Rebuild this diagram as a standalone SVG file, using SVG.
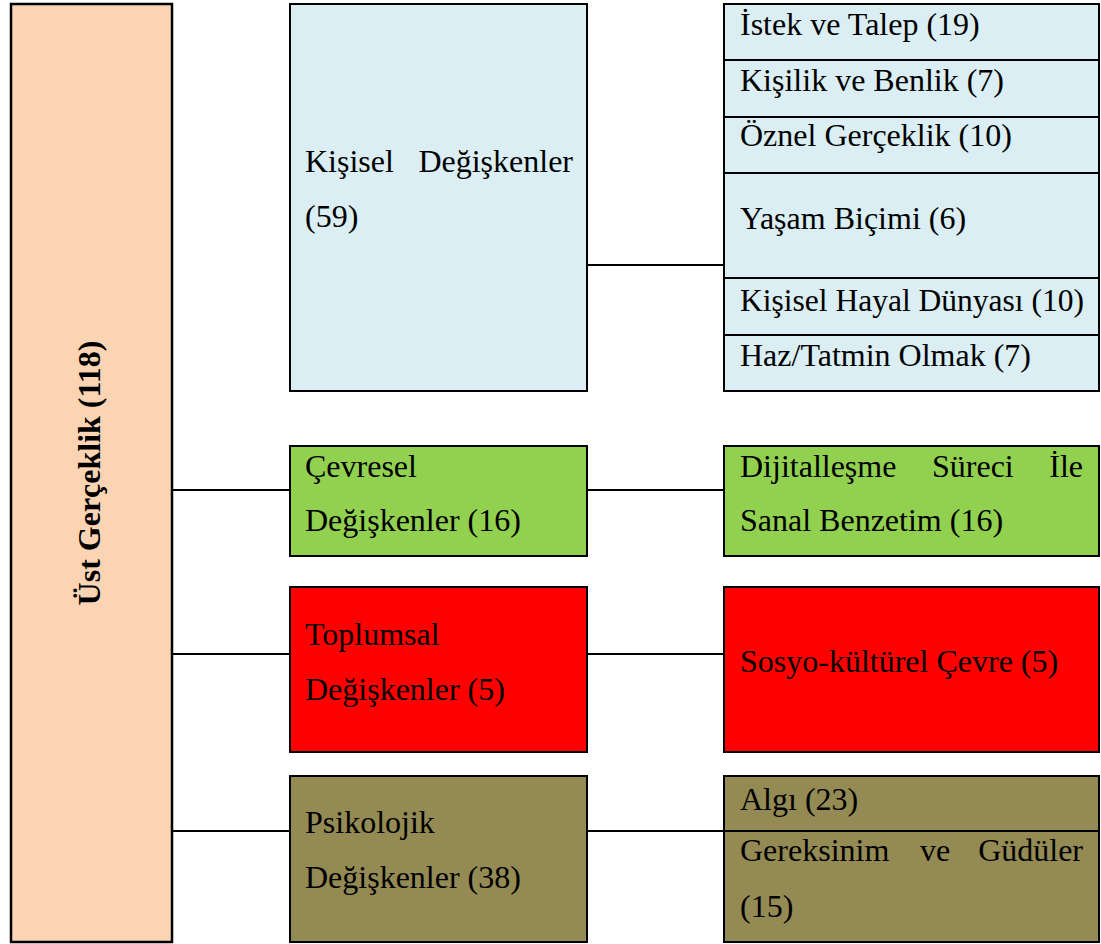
<svg xmlns="http://www.w3.org/2000/svg" width="1101" height="944" viewBox="0 0 1101 944">
  <style>
    .box { stroke: #000; stroke-width: 2; }
    .root { fill: #FBD4B4; stroke: #000; stroke-width: 2.5; }
    .blue { fill: #DAEEF3; }
    .green { fill: #92D050; }
    .red { fill: #FF0000; }
    .olive { fill: #948A54; }
    .t { font-family: "Liberation Serif", "Times New Roman", serif; font-size: 32px; fill: #000; }
    .tb { font-family: "Liberation Serif", "Times New Roman", serif; font-size: 32px; font-weight: bold; fill: #000; }
    .conn line { stroke: #000; stroke-width: 2; }
  </style>
  <rect width="1101" height="944" fill="#fff"/>

  <!-- connectors -->
  <g id="connectors" class="conn">
    <line x1="172" y1="490" x2="290" y2="490"/>
    <line x1="172" y1="654" x2="290" y2="654"/>
    <line x1="172" y1="831" x2="290" y2="831"/>
    <line x1="587" y1="265" x2="724" y2="265"/>
    <line x1="587" y1="490" x2="724" y2="490"/>
    <line x1="587" y1="654" x2="724" y2="654"/>
    <line x1="587" y1="831" x2="724" y2="831"/>
  </g>

  <!-- root -->
  <g id="ust-gerceklik">
    <rect class="root" x="11" y="4" width="161" height="938"/>
    <text class="tb" transform="translate(100 473) rotate(-90)" text-anchor="middle">Üst Gerçeklik (118)</text>
  </g>

  <!-- second level -->
  <g id="kisisel">
    <rect class="box blue" x="290" y="4" width="297" height="387"/>
    <text class="t" x="305" y="172">Kişisel</text>
    <text class="t" x="573" y="172" text-anchor="end">Değişkenler</text>
    <text class="t" x="305" y="227">(59)</text>
  </g>
  <g id="cevresel">
    <rect class="box green" x="290" y="446" width="297" height="110"/>
    <text class="t" x="305" y="477">Çevresel</text>
    <text class="t" x="305" y="531">Değişkenler (16)</text>
  </g>
  <g id="toplumsal">
    <rect class="box red" x="290" y="587" width="297" height="165"/>
    <text class="t" x="305" y="645">Toplumsal</text>
    <text class="t" x="305" y="700">Değişkenler (5)</text>
  </g>
  <g id="psikolojik">
    <rect class="box olive" x="290" y="776" width="297" height="166"/>
    <text class="t" x="305" y="833">Psikolojik</text>
    <text class="t" x="305" y="888">Değişkenler (38)</text>
  </g>

  <!-- third level -->
  <g id="kisisel-alt">
    <rect class="box blue" x="724" y="4" width="375" height="387"/>
    <line class="box" x1="724" y1="60" x2="1099" y2="60"/>
    <line class="box" x1="724" y1="117" x2="1099" y2="117"/>
    <line class="box" x1="724" y1="173" x2="1099" y2="173"/>
    <line class="box" x1="724" y1="278" x2="1099" y2="278"/>
    <line class="box" x1="724" y1="335" x2="1099" y2="335"/>
    <text class="t" x="740" y="35">İstek ve Talep (19)</text>
    <text class="t" x="740" y="91">Kişilik ve Benlik (7)</text>
    <text class="t" x="740" y="146">Öznel Gerçeklik (10)</text>
    <text class="t" x="740" y="229">Yaşam Biçimi (6)</text>
    <text class="t" x="740" y="311" textLength="344" lengthAdjust="spacingAndGlyphs">Kişisel Hayal Dünyası (10)</text>
    <text class="t" x="740" y="366">Haz/Tatmin Olmak (7)</text>
  </g>
  <g id="dijital">
    <rect class="box green" x="724" y="446" width="375" height="110"/>
    <text class="t" x="740" y="477">Dijitalleşme</text>
    <text class="t" x="932" y="477">Süreci</text>
    <text class="t" x="1083" y="477" text-anchor="end">İle</text>
    <text class="t" x="740" y="531">Sanal Benzetim (16)</text>
  </g>
  <g id="sosyo">
    <rect class="box red" x="724" y="587" width="375" height="165"/>
    <text class="t" x="740" y="672">Sosyo-kültürel Çevre (5)</text>
  </g>
  <g id="psikolojik-alt">
    <rect class="box olive" x="724" y="776" width="375" height="166"/>
    <line class="box" x1="724" y1="831" x2="1099" y2="831"/>
    <text class="t" x="740" y="810">Algı (23)</text>
    <text class="t" x="740" y="861">Gereksinim</text>
    <text class="t" x="920" y="861">ve</text>
    <text class="t" x="1083" y="861" text-anchor="end">Güdüler</text>
    <text class="t" x="740" y="917">(15)</text>
  </g>
</svg>
